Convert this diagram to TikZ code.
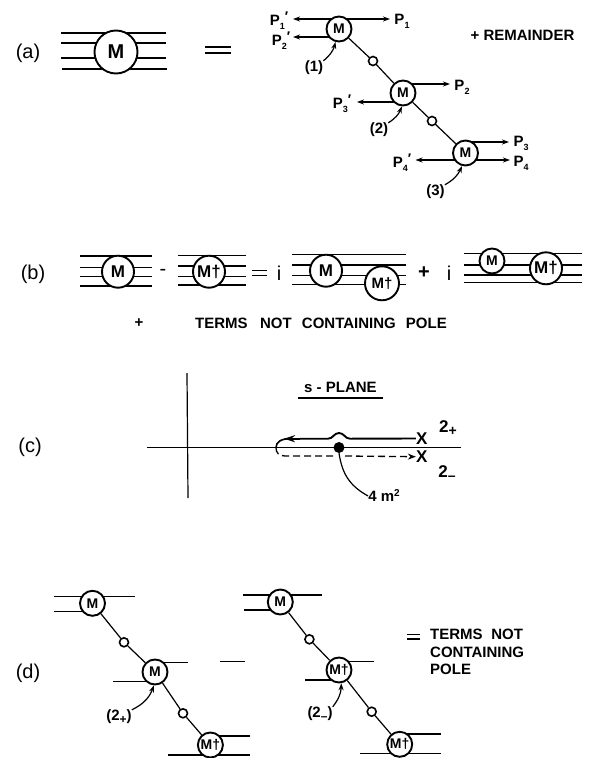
\documentclass[tikz,border=0pt]{standalone}
\usepackage{fontspec}
\setmainfont{Liberation Sans}
\usetikzlibrary{arrows.meta,backgrounds}
\newcommand{\hwire}[5][wire]{%
  \coordinate (#2-l) at (#3,#5); \coordinate (#2-r) at (#4,#5);
  \draw[#1] (#2-l) -- (#2-r);}
\newcommand{\Pp}[2]{P\raisebox{-4pt}{\fontsize{9}{9}\selectfont #1}\raisebox{4pt}{\fontsize{14}{14}\selectfont #2}}
\tikzset{
  x=1pt,y=-1pt,
  wire/.style={line width=1.2pt},
  tipone/.style={wire,-{Stealth[length=7pt,width=5pt]}},
  tiptwo/.style={wire,{Stealth[length=7pt,width=5pt]}-{Stealth[length=7pt,width=5pt]}},
  vertex/.style={circle,draw,fill=white,line width=1.9pt,inner sep=0pt,font=\fontsize{14}{14}\selectfont\bfseries},
  big/.style={vertex,minimum size=43pt,font=\fontsize{20}{20}\selectfont\bfseries},
  mid/.style={vertex,minimum size=32pt,font=\fontsize{17}{17}\selectfont\bfseries},
  small/.style={vertex,minimum size=25pt},
  prop/.style={circle,draw,fill=white,line width=1.6pt,inner sep=0pt,minimum size=9pt},
  txt/.style={inner sep=0pt,font=\fontsize{15}{17.5}\selectfont\bfseries},
  plab/.style={inner sep=0pt,font=\fontsize{15}{16}\selectfont\bfseries},
  rowlab/.style={inner sep=0pt,font=\fontsize{20}{20}\selectfont},
  eqn/.style={inner sep=0pt,font=\fontsize{20}{20}\selectfont},
}
\begin{document}
\begin{tikzpicture}
\path[use as bounding box] (0,0) rectangle (590,758);
% (a)
\node[rowlab] (la) at (28,53) {(a)};
\node[big] (A) at (116,52) {M};
\node[small] (M1) at (339,29) {M};
\node[small] (M2) at (403,93) {M};
\node[small] (M3) at (465.5,153) {M};
\node[prop] (s1) at (373,61) {};
\node[prop] (s2) at (432,121) {};
\node[plab] (P1p) at (279,21) {\Pp{1}{′}};
\node[plab] (P2p) at (281,41) {\Pp{2}{′}};
\node[plab] (P1) at (402,21) {\Pp{1}{}};
\node[plab] (P2) at (462,87) {\Pp{2}{}};
\node[plab] (P3p) at (342,104) {\Pp{3}{′}};
\node[plab] (P3) at (521,143) {\Pp{3}{}};
\node[plab] (P4) at (521,163) {\Pp{4}{}};
\node[plab] (P4p) at (402,163) {\Pp{4}{′}};
\node[plab] (n1) at (314,68) {(1)};
\node[plab] (n2) at (379,130) {(2)};
\node[plab] (n3) at (435.5,192) {(3)};
\node[txt] (rem) at (522.5,35) {+ REMAINDER};
\begin{pgfonlayer}{background}
\hwire{a1}{61}{166}{33}
\hwire{a2}{61}{166}{43}
\hwire{a3}{61}{166}{58}
\hwire{a4}{62}{167}{69}
\draw[wire] (M1) -- (s1) -- (M2) -- (s2) -- (M3);
\hwire[tiptwo]{b1}{293}{390}{19}
\hwire[tipone]{b2}{339}{293}{37}
\hwire[tipone]{b3}{403}{450}{84}
\hwire[tipone]{b4}{403}{357}{102}
\hwire[tipone]{b5}{465}{509}{142}
\hwire[tiptwo]{b6}{415.5}{510}{160}
\end{pgfonlayer}
\hwire{e1}{205}{231}{47}
\hwire{e2}{205}{231}{53}
\draw[tipone] (n1.north east) to[bend right=18] (M1.255);
\draw[tipone] (n2.north east) to[bend right=18] (M2.265);
\draw[tipone] (n3.north east) to[bend right=18] (M3.255);
% (b)
\node[rowlab] (lb) at (33,274) {(b)};
\node[mid] (B1) at (118,271.7) {M};
\node[eqn] (minus) at (163,272) {-};
\node[mid] (B2) at (209,271.7) {M†};
\node[eqn] (ib) at (279,273) {i};
\node[mid] (B3) at (326,270.7) {M};
\node[mid,minimum size=34pt,font=\fontsize{15}{15}\selectfont\bfseries] (B3d) at (382,283.3) {M†};
\node[eqn] (pb) at (424,273) {\bfseries +};
\node[eqn] (ic) at (449,273) {i};
\node[small] (B4) at (492,261) {M};
\node[mid] (B4d) at (546,268.3) {M†};
\begin{pgfonlayer}{background}
\foreach \n/\y in {1/256,2/267.7,3/276.7,4/286} {\hwire{p\n}{80}{152}{\y}}
\foreach \n/\y in {1/255.3,2/266,3/276.7,4/285} {\hwire{q\n}{178}{246}{\y}}
\foreach \n/\y in {1/254.3,2/265,3/275.7,4/284.3} {\hwire{r\n}{292}{406}{\y}}
\foreach \n/\y in {1/253.3,2/265,3/275,4/282.7} {\hwire{t\n}{464}{582}{\y}}
\end{pgfonlayer}
\hwire{e3}{252}{267}{270.7}
\hwire{e4}{252}{267}{275.7}
\node[txt] (plusb) at (139,323) {+};
\node[txt] (termsb) at (321,323) {TERMS\hspace{0.55em} NOT\hspace{0.4em} CONTAINING\hspace{0.4em} POLE};
% (c)
\node[rowlab] (lc) at (30,447) {(c)};
\node[txt] (sp) at (340.5,387) {s - PLANE};
\coordinate (u1) at (298,398); \coordinate (u2) at (383,398);
\draw[wire] (u1) -- (u2);
\coordinate (vt) at (187,373); \coordinate (vb) at (188,498);
\coordinate (hl) at (147,447.7); \coordinate (hr) at (461,447.7);
\draw[wire] (vt) -- (vb);
\draw[wire] (hl) -- (hr);
\node[circle,fill=black,inner sep=0pt,minimum size=11pt] (pole) at (339,447.5) {};
\node[txt,font=\fontsize{17}{17}\selectfont\bfseries] (Xa) at (421.7,438.5) {X};
\node[txt,font=\fontsize{17}{17}\selectfont\bfseries] (Xb) at (421.7,456.7) {X};
\node[plab] (tp) at (448,428) {\fontsize{17}{17}\selectfont 2\raisebox{-3pt}{\fontsize{14}{14}\selectfont +}};
\node[plab] (tm) at (447,473) {\fontsize{17}{17}\selectfont 2\raisebox{-3pt}{\fontsize{14}{14}\selectfont –}};
\node[plab] (fm) at (384,496) {4 m\raisebox{5pt}{\fontsize{10}{10}\selectfont 2}};
\draw[line width=1.9pt] (Xa.west) -- (350,438.7) .. controls (345,438.7) and (344,433) .. (339,433) .. controls (334,433) and (333,438.7) .. (328,438.7) -- (300,438.7);
\draw[line width=1.9pt,-{Stealth[length=11pt,width=7pt]}] (300,438.7) -- (284,438.7);
\draw[line width=1.6pt] (290,438.7) .. controls (281,438.7) and (276,442) .. (276,447.7);
\draw[line width=1.3pt,dash pattern=on 7pt off 4pt] (276,447.7) .. controls (276,453) and (279,456) .. (285,456) -- (334,456);
\draw[line width=1.3pt,dash pattern=on 7pt off 4pt,-{Stealth[length=8pt,width=6pt]}] (345,456) -- (Xb.west);
\draw[wire] (pole.south) .. controls (342,472) and (348,485) .. (fm.west);
% (d)
\node[rowlab] (ld) at (28,673) {(d)};
\node[small] (D1) at (92.5,603.3) {M};
\node[prop] (d1) at (124,642.3) {};
\node[small] (D2) at (155,672) {M};
\node[prop] (d2) at (183,713.3) {};
\node[small] (D3) at (210.4,745) {M†};
\node[small] (E1) at (280.3,602) {M};
\node[prop] (e1c) at (309.4,639.3) {};
\node[small] (E2) at (339,670) {M†};
\node[prop] (e2c) at (371.7,711.7) {};
\node[small] (E3) at (399.7,744.3) {M†};
\node[plab] (nd1) at (119,717) {(2\raisebox{-3pt}{\fontsize{12}{12}\selectfont +})};
\node[plab] (nd2) at (320,714) {(2\raisebox{-3pt}{\fontsize{12}{12}\selectfont –})};
\node[txt,align=left,anchor=north west] (termsd) at (430,629) {TERMS\hspace{0.3em} NOT\\CONTAINING\\POLE};
\begin{pgfonlayer}{background}
\hwire{f1}{54}{134.5}{596.7}
\hwire{f2}{54}{92.5}{611.3}
\draw[wire] (D1) -- (d1) -- (D2) -- (d2) -- (D3);
\hwire{f3}{155}{188}{662.3}
\hwire{f4}{113}{155}{681.7}
\hwire{f5}{210}{250}{736}
\hwire{f6}{168}{250}{755}
\hwire{g1}{243}{322}{595}
\hwire{g2}{244.4}{280}{610}
\draw[wire] (E1) -- (e1c) -- (E2) -- (e2c) -- (E3);
\hwire{g3}{339}{374}{661.3}
\hwire{g4}{305}{339}{680}
\hwire{g5}{400}{441}{734}
\hwire{g6}{360}{441}{753.3}
\end{pgfonlayer}
\hwire{dm}{220}{245}{661.7}
\hwire{e5}{407}{420}{634.3}
\hwire{e6}{407}{420}{639}
\draw[tipone] (nd1.north east) to[bend right=22] (D2.265);
\draw[tipone] (nd2.north east) to[bend right=18] (E2.280);
\end{tikzpicture}
\end{document}
